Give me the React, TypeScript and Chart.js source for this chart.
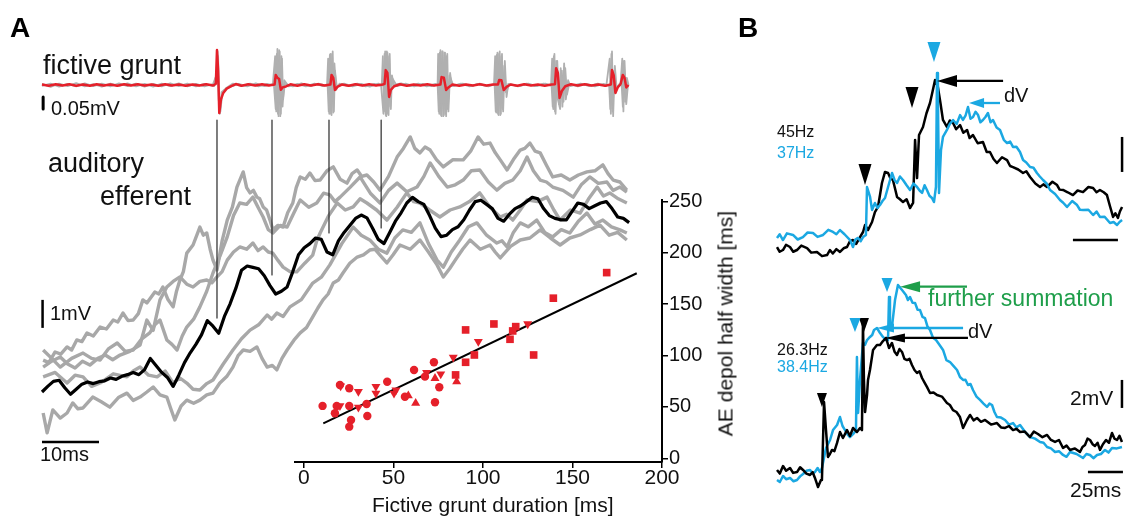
import React, { useEffect, useRef } from 'react';
import { Chart, registerables } from 'chart.js';
Chart.register(...registerables);

const FONT = '"Liberation Sans", Arial, Helvetica, sans-serif';
const RED = '#e5202a';
const GRAY = '#a8a8a8';
const BLUE = '#1ba8e2';
const GREEN = '#1e9e4a';
const INK = '#111111';

type P = [number, number];

// ================= Panel A : fictive grunt (time ms, µV) =================
const gruntRed: P[] = [[0,2],[1.2,-3],[2.4,3],[3.6,-2],[4.8,3],[6,-3],[7.2,2],[8.4,-3],[9.6,3],[10.8,-2],[12,2],[13.2,-3],[14.4,3],[15.6,-2],[16.8,3],[18,-2],[19.2,2],[20.4,-3],[21.6,3],[22.8,-2],[24,2],[25.2,-3],[26.4,2],[27.6,-2],[28.8,3],[30,-2],[30.5,5],
[30.7,146],[30.9,60],[31.1,-117],[31.4,-60],[31.8,-33],[32.4,-15],[33.2,-5],[34,4],[35,-3],[36.2,3],[37.4,-2],[38.6,3],[39.8,-2],[40.8,2],
[41.0,42],[41.3,30],[41.6,25],[41.9,-20],[42.2,-10],[42.8,-6],[43.6,3],[44.8,-3],[46,3],[47.2,-2],[48.4,3],[49.6,-2],[50.6,2],
[50.8,42],[51.1,30],[51.4,-21],[51.8,-8],[52.6,2],[53.8,-3],[55,3],[56.2,-2],[57.4,3],[58.6,-2],[59.8,2],[60.1,5],
[60.3,62],[60.6,50],[60.9,-50],[61.2,-20],[61.8,-5],[62.8,3],[64,-3],[65.2,2],[66.4,-2],[67.6,3],[68.8,-2],[69.9,2],
[70.1,33],[70.5,30],[70.9,-21],[71.3,-10],[72,2],[73.2,-3],[74.4,2],[75.6,-2],[76.8,3],[78,-2],[79.2,2],[80.0,2],
[80.2,21],[80.6,20],[81,-21],[81.5,-8],[82.2,2],[83.4,-3],[84.6,3],[85.8,-2],[87,2],[88.2,-3],[89.4,2],[90.0,3],
[90.2,70],[90.5,50],[90.8,-54],[91.2,-25],[91.8,-5],[92.8,3],[94,-2],[95.2,3],[96.4,-2],[97.6,2],[98.8,-3],[99.8,2],
[100.0,62],[100.3,40],[100.6,-33],[101,-10],[101.5,3],
[101.9,42],[102.2,30],[102.5,-10],[102.9,0]];

const gruntGray1: P[] = [[0,5],[1.5,-8],[3,6],[4.5,-5],[6,8],[7.5,-6],[9,4],[10.5,-7],[12,6],[13.5,-4],[15,7],[16.5,-6],[18,5],[19.5,-7],[21,6],[22.5,-5],[24,7],[25.5,-6],[27,5],[28.5,-6],[30,4],
[30.6,40],[30.8,140],[31.0,-60],[31.2,-120],[31.5,-30],[32,-20],[33,-8],[34.5,5],[36,-6],[37.5,7],[39,-5],[40.5,4],
[40.9,120],[41.1,-110],[41.3,150],[41.5,-130],[41.7,140],[41.9,-120],[42.1,110],[42.3,-60],[42.6,5],[44,-6],[45.5,7],[47,-5],[48.5,6],[50,-4],
[50.2,110],[50.4,-120],[50.6,130],[50.8,-125],[51.0,140],[51.2,-110],[51.4,60],[51.7,-5],[53,6],[54.5,-6],[56,5],[57.5,-7],[59,6],[59.6,-3],
[59.8,120],[60.0,-110],[60.2,140],[60.4,-130],[60.6,135],[60.8,-125],[61.0,130],[61.2,-100],[61.4,40],[61.7,0],[63,7],[64.5,-5],[66,6],[67.5,-6],[69,5],[69.4,-2],
[69.5,130],[69.7,-120],[69.9,145],[70.1,-130],[70.3,140],[70.5,-125],[70.7,135],[70.9,-130],[71.1,130],[71.3,-110],[71.6,50],[71.9,-5],[73.5,6],[75,-6],[76.5,5],[78,-5],[79.3,4],
[79.5,120],[79.7,-115],[79.9,135],[80.1,-125],[80.3,140],[80.5,-120],[80.7,130],[80.9,-110],[81.2,100],[81.5,-50],[81.8,5],[83.5,-6],[85,6],[86.5,-5],[88,6],[89.3,-3],
[89.5,110],[89.7,-100],[89.9,130],[90.1,-120],[90.4,100],[90.7,-80],[91.0,70],[91.3,-90],[91.6,90],[91.9,-60],[92.3,20],[92.7,-5],[94.5,6],[96,-5],[97.5,6],[99,-4],
[99.6,110],[99.8,-120],[100.0,140],[100.2,-130],[100.5,80],[100.8,-10],[101.5,5],
[101.8,110],[102.0,-110],[102.2,100],[102.5,-80],[102.8,0]];

const gruntGray2: P[] = [[0,-4],[1.5,6],[3,-7],[4.5,5],[6,-6],[7.5,7],[9,-5],[10.5,6],[12,-6],[13.5,7],[15,-5],[16.5,6],[18,-7],[19.5,5],[21,-6],[22.5,7],[24,-5],[25.5,6],[27,-6],[28.5,5],[30.2,-5],
[30.7,60],[30.9,120],[31.1,-90],[31.3,-110],[31.6,-40],[32.2,-15],[33.5,6],[35,-5],[36.5,6],[38,-6],[39.5,5],[40.7,-3],
[41.0,-100],[41.2,130],[41.4,-120],[41.6,145],[41.8,-130],[42.0,120],[42.2,-90],[42.5,20],[43.3,-6],[44.8,5],[46.3,-6],[47.8,6],[49.3,-5],[50.1,2],
[50.3,-110],[50.5,125],[50.7,-120],[50.9,130],[51.1,-115],[51.3,90],[51.6,-20],[52.2,6],[53.8,-5],[55.3,6],[56.8,-6],[58.3,5],[59.5,-4],
[59.9,-120],[60.1,130],[60.3,-125],[60.5,140],[60.7,-120],[60.9,120],[61.1,-90],[61.4,30],[62.3,-5],[63.8,6],[65.3,-6],[66.8,5],[68.3,-5],[69.4,3],
[69.6,-110],[69.8,135],[70.0,-125],[70.2,140],[70.4,-130],[70.6,135],[70.8,-120],[71.0,120],[71.2,-100],[71.5,40],[72.2,-5],[73.8,6],[75.3,-5],[76.8,6],[78.3,-6],[79.4,3],
[79.6,-110],[79.8,125],[80.0,-120],[80.2,130],[80.4,-125],[80.6,120],[80.8,-100],[81.1,80],[81.4,-30],[82,4],[83.8,-5],[85.3,6],[86.8,-5],[88.3,6],[89.4,-3],
[89.6,-90],[89.8,120],[90.0,-110],[90.2,100],[90.5,-60],[90.9,-100],[91.2,60],[91.5,-70],[91.8,70],[92.1,-40],[92.5,5],[94,-6],[95.5,5],[97,-6],[98.5,5],[99.5,-3],
[99.7,-100],[99.9,130],[100.1,-110],[100.4,60],[100.7,-20],[101.3,4],[101.7,-3],
[101.9,-90],[102.1,100],[102.3,-70],[102.6,30],[102.9,0]];

// ================= Panel A : auditory efferent (time ms, mV) =================
const aeMeanStepMs = 1;
const aeMean = [0.00,0.20,0.38,0.42,0.15,-0.08,0.10,0.28,0.36,0.30,
 0.37,0.40,0.50,0.45,0.56,0.62,0.70,0.62,0.80,1.20,
 0.95,0.70,0.52,0.20,0.60,1.05,1.40,1.70,2.05,2.55,
 2.35,2.10,2.70,3.15,3.70,4.35,4.50,4.45,4.40,4.15,
 3.80,3.50,3.60,3.75,4.30,4.90,5.15,5.30,5.50,5.45,
 5.00,4.90,5.40,5.70,5.95,6.20,6.32,6.22,5.85,5.45,
 5.30,5.70,6.10,6.40,6.75,6.95,6.80,6.70,6.30,5.85,
 5.55,5.60,5.80,5.90,6.15,6.50,6.80,6.85,6.70,6.55,
 6.20,6.10,6.35,6.55,6.65,6.80,6.95,6.90,6.55,6.30,
 6.20,6.15,6.15,6.45,6.75,6.70,6.55,6.65,6.75,6.80,
 6.55,6.25,6.20,6.05];

const aeGray1: P[] = [[0.2,1.14],[1.2,1.05],[2.3,1.43],[3.3,1.35],[4.4,1.61],[5.2,1.5],[6.1,1.86],[7.0,1.8],[7.9,2.11],[9.0,2.0],[10.2,2.32],[11.3,2.25],[12.5,2.57],[13.3,2.5],[14.2,2.82],[15.1,2.55],[16.0,2.57],[16.9,2.8],[17.7,3.29],[18.4,3.18],[19.8,3.57],[20.5,3.5],[21.2,3.75],[22.1,3.3],[23.0,3.04],[23.6,3.6],[24.2,4.0],[24.8,4.3],[25.4,4.96],[26.5,5.25],[27.7,5.89],[28.3,5.6],[28.9,5.68],[29.5,5.1],[30.0,4.71],[30.7,4.36],[31.6,5.4],[32.5,6.14],[33.4,6.6],[34.2,7.32],[35.3,7.86],[35.9,7.3],[36.5,7.11],[37.1,7.2],[37.7,6.96],[38.2,6.9],[38.8,6.61],[39.4,6.5],[40.0,6.14],[40.5,5.79],[41.4,5.95],[42.3,5.89],[43.1,6.4],[44.0,6.75],[44.6,7.3],[45.3,7.68],[46.2,7.6],[47.0,7.82],[47.9,7.55],[48.8,7.57],[50.0,7.9],[51.1,8.04],[52.3,7.6],[53.5,7.46],[54.4,7.8],[55.3,7.93],[56.1,7.7],[57.0,7.75],[58.2,7.5],[59.3,7.21],[60.8,7.7],[62.3,8.39],[63.4,8.7],[64.6,9.11],[65.4,8.7],[66.3,8.54],[67.2,8.75],[68.1,8.64],[69.2,8.3],[70.4,8.04],[72.1,8.3],[73.9,8.29],[75.2,8.6],[76.5,9.11],[77.5,8.85],[78.6,8.89],[79.5,8.55],[80.4,8.29],[81.6,7.93],[82.7,8.3],[83.9,8.64],[84.7,8.7],[85.6,8.89],[86.5,8.6],[87.4,8.54],[88.5,8.1],[89.6,7.68],[91.1,7.75],[92.6,7.57],[94.1,7.75],[95.6,7.86],[97.0,7.9],[98.4,8.11],[99.3,7.8],[100.2,7.57],[101.4,7.5],[102.6,7.21]];

const aeGray2: P[] = [[0.2,1.5],[1.7,1.2],[3.2,0.89],[5.2,1.2],[7.2,1.39],[8.7,1.2],[10.2,1.14],[11.7,1.55],[13.2,1.75],[14.6,1.45],[16.0,1.5],[17.5,1.9],[18.9,2.11],[19.8,2.4],[20.7,2.57],[21.9,1.86],[22.8,1.7],[23.7,1.5],[24.6,2.0],[25.4,2.32],[26.6,2.6],[27.7,3.04],[28.9,3.6],[30.0,4.25],[31.3,4.9],[32.5,5.54],[33.6,6.3],[34.7,6.75],[35.9,6.7],[37.0,6.96],[37.9,6.6],[38.8,6.25],[39.7,5.8],[40.5,5.68],[41.8,5.95],[43.0,5.89],[44.2,6.4],[45.3,6.86],[46.8,6.6],[48.2,6.75],[49.4,7.1],[50.5,7.04],[51.4,6.8],[52.3,6.96],[54.0,7.3],[55.8,7.68],[57.6,7.1],[59.3,6.75],[60.8,7.2],[62.3,7.46],[64.0,7.15],[65.8,7.32],[67.0,7.7],[68.1,8.18],[69.6,7.7],[71.1,7.32],[72.5,7.4],[73.9,7.57],[75.3,7.9],[76.8,7.93],[78.3,7.5],[79.8,7.21],[81.2,7.45],[82.6,7.57],[83.9,7.9],[85.1,8.39],[86.2,7.9],[87.4,7.57],[88.5,7.5],[89.6,7.32],[91.4,7.2],[93.2,6.96],[94.6,7.4],[96.1,7.68],[97.6,7.45],[99.1,7.5],[100.2,7.2],[101.4,7.32],[102.6,7.14]];

const aeGray3: P[] = [[0.2,0.89],[1.7,1.1],[3.2,1.25],[4.5,1.0],[5.8,0.86],[7.1,1.1],[8.4,0.96],[9.8,1.2],[11.1,1.32],[12.4,1.15],[13.7,1.32],[15.4,1.45],[17.2,1.68],[18.4,2.57],[19.5,2.2],[20.7,3.29],[21.9,3.75],[23.0,3.95],[24.2,4.11],[25.4,3.85],[26.5,3.75],[27.7,3.95],[28.9,4.0],[29.8,3.9],[30.7,4.11],[31.6,4.3],[32.5,4.71],[33.6,5.0],[34.7,5.18],[35.9,5.1],[37.0,5.32],[37.9,5.05],[38.8,5.18],[39.7,5.0],[40.5,4.96],[41.4,4.7],[42.3,4.46],[43.5,4.3],[44.7,4.29],[46.1,4.6],[47.5,4.89],[48.2,5.4],[48.8,5.68],[50.3,6.3],[51.8,6.75],[53.2,6.5],[54.6,6.61],[55.8,6.9],[57.0,6.75],[58.7,6.5],[60.5,6.14],[62.3,6.6],[64.0,7.11],[65.2,6.8],[66.3,6.75],[68.0,6.5],[69.8,6.25],[71.6,6.5],[73.3,6.61],[75.0,6.8],[76.8,7.11],[78.6,6.6],[80.4,6.25],[81.5,6.35],[82.6,6.14],[83.9,6.5],[85.1,6.86],[86.9,6.8],[88.6,6.96],[89.8,6.5],[90.9,6.14],[92.7,6.5],[94.4,6.39],[95.9,6.9],[97.4,7.32],[98.5,7.0],[99.6,7.11],[101.1,6.9],[102.6,6.75]];

const aeGray4: P[] = [[0.2,0.54],[2.3,0.7],[4.4,0.32],[5.8,0.6],[7.2,0.54],[8.7,0.2],[10.2,0.32],[12.5,0.65],[14.9,0.54],[16.0,0.75],[17.2,0.89],[18.7,0.6],[20.2,0.54],[21.6,0.75],[23.0,0.32],[24.2,0.5],[25.4,0.32],[26.5,0.1],[27.7,0.07],[28.9,0.3],[30.0,0.43],[31.8,1.0],[33.5,1.5],[35.0,1.9],[36.5,2.21],[38.0,2.4],[39.5,2.75],[40.3,2.6],[41.2,2.82],[42.3,2.7],[43.5,3.04],[45.5,3.3],[47.5,3.89],[49.0,4.1],[50.5,4.54],[52.6,5.3],[54.6,5.89],[56.0,5.6],[57.5,5.43],[59.0,5.1],[60.5,4.96],[61.9,5.5],[63.3,5.79],[64.8,5.7],[66.3,6.04],[67.8,5.3],[69.3,4.71],[70.4,4.46],[71.8,5.0],[73.3,5.43],[74.8,5.9],[76.3,6.04],[78.0,5.6],[79.8,5.32],[80.7,5.4],[81.6,5.18],[82.7,5.7],[83.9,6.04],[85.3,5.9],[86.8,6.14],[88.2,5.7],[89.6,5.54],[91.1,5.8],[92.6,5.68],[94.1,6.1],[95.6,6.39],[97.0,6.0],[98.4,6.14],[99.9,5.9],[101.4,5.79],[102.6,5.68]];

const aeGray5: P[] = [[0.2,-0.75],[0.9,-1.46],[1.9,-0.64],[3.2,-0.93],[4.4,-0.75],[5.4,-0.39],[6.3,-0.6],[7.2,-0.57],[8.9,-0.18],[10.4,-0.35],[11.9,-0.54],[13.4,-0.2],[14.9,-0.04],[16.0,-0.3],[17.2,-0.18],[18.4,0.0],[19.5,0.18],[20.7,-0.1],[21.9,-0.18],[22.6,-0.6],[23.3,-1.0],[24.4,-0.5],[25.4,-0.29],[26.6,-0.4],[27.7,-0.29],[28.9,-0.1],[30.0,-0.04],[31.2,0.32],[32.4,0.55],[33.5,0.89],[34.4,1.3],[35.3,1.5],[36.5,1.45],[37.7,1.61],[38.6,1.2],[39.5,0.89],[40.4,0.95],[41.2,0.79],[42.1,1.2],[43.0,1.5],[44.2,1.85],[45.3,2.11],[46.4,2.3],[47.5,2.68],[48.4,3.0],[49.3,3.29],[50.2,3.5],[51.1,3.89],[52.0,4.0],[52.8,4.25],[54.0,4.6],[55.3,4.82],[56.4,4.9],[57.5,5.07],[58.4,5.1],[59.3,4.89],[60.5,4.61],[61.6,4.9],[62.8,5.25],[64.6,5.1],[66.3,5.43],[67.8,5.0],[69.3,4.54],[70.4,4.11],[71.5,4.4],[72.5,4.71],[73.8,5.1],[75.1,5.43],[76.9,5.1],[78.6,5.25],[79.5,5.0],[80.4,4.79],[82.2,5.2],[83.9,5.43],[85.6,5.5],[87.4,5.79],[89.2,5.5],[90.9,5.25],[92.6,5.5],[94.4,5.61],[96.2,5.8],[97.9,5.96],[99.5,5.6],[101.0,5.7],[102.6,5.43]];

// grunt-onset markers: [time ms, lower end mV]
const onsetTimes = [30.7, 40.35, 50.35, 59.5];
const onsetLowMv = [2.64, 4.18, 5.68, 5.86];
const onsetTopMv = 9.71;

// ================= Panel A inset : half width vs grunt duration =================
const circDur = [10.4,18.3,17.3,20.1,25.3,25.3,26.3,25.3,35,35.4,46.5,56.4,61.5,67.6,72.6,75.6,73.2];
const circHalf = [51,51,43.8,71.4,68.2,51,37.3,30.8,52.9,41.2,74.6,60,86,79.5,93.5,69.2,54.6];
const sqDur = [169.1,139.3,106.1,90.3,118.3,116.6,115.1,128.3,95.2,90.3,84.7];
const sqHalf = [180.8,155.9,130.8,125,128.2,124,115.9,100.6,100.6,93.5,81.2];
const triDownDur = [125,97.4,83.4,76.4,68.5,51.4,50.3,40.2,40.2,30.4,20.5,20.1,30.4];
const triDownHalf = [130.8,113.6,98.4,82.1,83.4,66.5,63.3,69.8,63.3,64.9,70.4,51,49.7];
const triUpDur = [73.2,85.3,62.4,58.3];
const triUpHalf = [77.9,74.6,53.6,61];
const fitDur = [10.8, 185.9];
const fitHalf = [34.1, 180.2];
const durTicks = [0, 50, 100, 150, 200];
const halfTicks = [0, 50, 100, 150, 200, 250];

// ================= Panel B top (45 Hz black / 37 Hz blue), time ms, mV =================
const bTopBlack: P[] = [[0,0.17],[1.5,-0.1],[3.3,0],[5,0.3],[7.2,0.17],[9,-0.1],[11.1,0],[13.5,0.25],[16.7,0.11],[19,-0.15],[22.2,-0.11],[25,-0.35],[27.8,-0.29],[29.4,0],[31,-0.2],[33,0.05],[35,-0.11],[37,0.1],[38.9,0.17],[40.5,0.5],[42.2,0.57],[44,0.35],[46.1,0.74],[47.8,1.03],[48.9,1.43],[50.6,1.14],[52.8,1.6],[54.4,2.17],[56.1,2.46],[57.3,3.2],[58.3,3.83],[60,4.46],[61.7,4.4],[63,4.1],[64.4,4.0],[65.6,3.5],[66.7,3.03],[68.3,2.9],[70,2.74],[72,2.9],[73.9,2.4],[75.6,2.69],[76.7,6.29],[77.8,4.11],[78.9,6.57],[81.1,7.03],[83,7.8],[85,8.4],[86.5,9.1],[87.8,9.71],[89.4,9.31],[90.8,8.4],[92.2,7.43],[94.4,7.03],[96,7.4],[97.8,7.26],[99.5,6.9],[101.7,7.14],[103.5,6.7],[105.6,6.86],[107,6.4],[108.9,6.57],[111.5,6.1],[114.4,6.17],[116.5,5.6],[118.3,5.6],[120.3,5.2],[122.2,4.97],[125,5.3],[127.8,5.14],[129.5,4.8],[131.1,4.74],[134,4.6],[136.7,4.4],[138.5,4.5],[140.6,4.17],[143.5,3.8],[146.1,3.6],[148,3.75],[150,3.6],[153,3.9],[155.6,3.71],[157,3.45],[158.9,3.43],[161.5,3.3],[164.4,3.14],[167,3.4],[170,3.31],[173,3.6],[175.6,3.54],[177.5,3.3],[179.4,3.43],[181.5,3.3],[183.3,3.14],[185,2.5],[186.7,1.89],[188,2.1],[189.4,1.83],[190.5,2.2],[191.7,2.46]];

const bTopBlue: P[] = [[0,0.69],[1.5,0.9],[3.3,0.57],[5.5,0.95],[8.9,0.86],[11.5,0.6],[14.4,0.74],[17,1.0],[20,0.97],[22.5,0.75],[25.6,0.86],[28.5,1.15],[31.1,1.03],[33,0.9],[35,1.14],[37.5,0.9],[40.6,0.57],[42.2,0.17],[43.5,0.6],[45,0.69],[46.5,0.5],[47.8,0.74],[49.4,0.86],[50,3.6],[51.7,3.03],[52.8,2.29],[54.4,2.69],[55.8,2.4],[57.2,2.57],[58.6,2.8],[60,2.97],[61.7,3.6],[63.9,4.4],[65.3,4.0],[66.7,3.83],[68.3,4.2],[70,4.0],[72,3.7],[73.9,3.43],[75.8,3.8],[77.8,3.6],[79.2,3.4],[80.6,3.26],[82,3.7],[83.3,3.43],[84.7,3.1],[86.1,2.97],[87.2,2.74],[88.3,3.6],[88.9,10.11],[89.4,8.57],[90,3.26],[91.1,5.71],[92.2,6.46],[94.4,6.86],[96,7.2],[97.8,7.43],[99.8,7.2],[101.7,7.71],[103.3,7.43],[104.8,7.7],[106.1,8.17],[107.5,7.5],[108.9,7.6],[110.3,7.9],[111.7,7.71],[113,7.3],[114.4,7.43],[115.8,7.6],[117.2,7.83],[118.6,7.3],[120,7.43],[122,7.0],[123.9,6.86],[126,6.3],[127.8,6.11],[129.5,6.2],[131.1,5.89],[133,5.9],[135,5.6],[136.7,5.14],[138.5,5.0],[140.6,4.74],[142.5,4.7],[144.4,4.4],[146,4.2],[147.8,4.0],[149.8,3.8],[151.7,3.43],[154.5,3.2],[157.2,2.86],[159,2.7],[161.1,2.46],[164,2.8],[166.7,2.57],[168.3,2.3],[170,2.29],[173,2.3],[175.6,2.0],[177.5,2.2],[179.4,1.89],[182,1.9],[185,1.54],[187,1.6],[188.9,1.43],[190.3,1.6],[191.7,1.71]];

// ================= Panel B bottom (26.3 Hz black / 38.4 Hz blue) =================
const bBotBlack: P[] = [[0,0.36],[2,0.1],[4.3,0.64],[6.5,0.3],[9.3,0.5],[11.5,0.15],[14.3,0.21],[16.5,0.55],[18.6,0.36],[21,0.1],[23.6,0],[25.5,0.2],[27.1,-0.21],[29.3,-0.86],[31.4,-0.36],[32.1,-0.36],[33.6,5.21],[35,3.21],[36.4,1.29],[37.8,1.5],[39.3,1.79],[41,1.7],[42.9,2.29],[45,3.07],[47.1,2.64],[50,3.21],[52.1,2.79],[54.3,3.36],[57.1,3.07],[59.3,3.36],[60.7,3.21],[61.4,10.93],[62.1,6.79],[62.9,4.5],[64.3,5.71],[65,6.79],[66.4,7.5],[68.6,8.93],[71.4,9.29],[73.6,9.29],[75.7,9.57],[77.9,9.79],[80,9.07],[82.1,9.43],[84,8.8],[85.7,8.57],[87.5,9.0],[89.3,8.79],[91,8.3],[92.9,8.21],[94.6,8.3],[96.4,7.86],[98.2,7.5],[100,7.29],[101.8,7.4],[103.6,6.93],[105.4,6.6],[107.1,6.29],[109.3,5.86],[111.8,5.9],[114.3,5.71],[117.8,5.6],[121.4,5.14],[123.5,5.0],[125.7,4.64],[128.2,4.5],[130.7,4.14],[132.9,3.36],[135.7,3.93],[137.9,4.29],[140.4,3.9],[142.9,4.07],[145.7,3.8],[148.6,3.93],[152.9,3.6],[157.1,3.71],[160,3.4],[162.9,3.36],[165.7,3.5],[168.6,3.21],[171,3.3],[173.6,3.07],[177,3.1],[180.7,2.71],[183.5,3.1],[186.4,2.93],[189.6,2.7],[192.9,2.86],[195.7,2.5],[198.6,2.36],[201.4,2.5],[204.3,1.93],[206.8,2.1],[209.3,1.79],[212.8,1.9],[216.4,1.64],[218.2,2.0],[220,2.14],[221.8,2.6],[223.6,2.5],[225.4,2.2],[227.1,2.07],[229,2.3],[230.7,1.79],[232.8,2.2],[235,2.5],[237.1,2.3],[239.3,3.0],[241,2.6],[242.9,2.5],[244.6,2.8],[246.4,2.36]];

const bBotBlue: P[] = [[0,-0.36],[2,-0.5],[4.3,-0.07],[6.5,-0.3],[9.3,-0.21],[11.8,-0.45],[14.3,-0.36],[16.5,-0.1],[18.6,0.07],[21,0.3],[23.6,0.36],[25.5,0.1],[27.1,0.21],[29,0.5],[30.7,0.21],[32.1,0.5],[35,1.93],[37.9,2.5],[40,3.21],[42.9,3.57],[45,4.14],[46.8,3.5],[48.6,3.21],[50.4,2.9],[52.1,2.71],[55,3.0],[56.4,3.21],[57.1,8.43],[57.9,4.43],[59.3,6.79],[61.4,9.43],[62.9,9.3],[64.3,9.64],[66.4,9.86],[68,10.0],[69.3,10.36],[71.4,10.5],[73.6,10.14],[75.7,9.86],[77.9,9.64],[79.3,9.64],[80,12.71],[80.7,10.36],[82.1,10.57],[84.3,12.5],[86.4,13.57],[89.3,13.21],[92.1,12.86],[93.5,12.5],[95,12.71],[96.8,12.3],[98.6,12.29],[100.4,11.8],[102.1,11.79],[103.9,11.3],[105.7,11.21],[107.5,10.6],[109.3,10.36],[111.4,9.8],[113.6,9.64],[116,9.3],[118.6,8.93],[121,8.2],[123.6,8.07],[126,7.8],[128.6,7.5],[130.7,7.0],[132.9,6.79],[134.6,6.8],[136.4,6.43],[138.2,6.5],[140,6.07],[142.5,5.6],[145,5.36],[147.5,5.1],[150,4.86],[151.8,5.1],[153.6,5.0],[155.3,4.5],[157.1,4.14],[160,4.1],[162.9,3.93],[165.7,3.6],[168.6,3.71],[171,3.4],[173.6,3.57],[177,3.1],[180.7,2.71],[184.3,2.6],[187.9,2.36],[190.4,2.3],[192.9,2.0],[195.7,1.9],[198.6,1.64],[201.4,1.7],[204.3,1.43],[206.8,1.3],[209.3,1.64],[214,1.5],[218.6,1.21],[221,1.5],[223.6,1.43],[226,1.2],[228.6,1.43],[231.4,1.5],[234.3,1.79],[236.8,1.6],[239.3,1.93],[242.8,1.9],[246.4,2.0]];

// stimulus markers (tip time ms, tip mV)
const stimTopBlack: P[] = [[48.9, 3.71], [75.0, 8.11]];
const stimTopBlue: P[] = [[87.2, 10.74]];
const stimBotBlack: P[] = [[32.1, 4.86], [62.1, 10.21]];
const stimBotBlue: P[] = [[55.7, 10.21], [78.6, 13.07]];
// dV arrows: [tip time, tail time, mV]
const arrTopBlack = [88.9, 125.6, 9.66];
const arrTopBlue = [106.7, 123.9, 8.4];
const arrBotGreen = [87.9, 135.7, 13.45];
const arrBotBlue = [71.4, 132.9, 10.5];
const arrBotBlack = [77.1, 136.4, 9.79];

// ---------- helpers ----------
const pts = (a: P[]) => a.map(([x, y]) => ({ x, y }));
const trace = (data: any[], xAxisID: string, yAxisID: string, color: string, width: number) => ({
  data, xAxisID, yAxisID, borderColor: color, backgroundColor: color, borderWidth: width,
  pointRadius: 0, showLine: true, fill: false, borderJoinStyle: 'round', borderCapStyle: 'butt',
});

const annotPlugin = {
  id: 'annot',
  afterDatasetsDraw(chart: any) {
    const ctx = chart.ctx;
    const sc = chart.scales;
    const drawStim = (list: P[], xs: string, ys: string, color: string, w: number, h: number) => {
      for (const [t, v] of list) {
        const x = sc[xs].getPixelForValue(t), y = sc[ys].getPixelForValue(v);
        ctx.save();
        ctx.fillStyle = color;
        ctx.beginPath();
        ctx.moveTo(x, y);
        ctx.lineTo(x - w / 2, y - h);
        ctx.lineTo(x + w / 2, y - h);
        ctx.closePath();
        ctx.fill();
        ctx.restore();
      }
    };
    const drawArrow = (a: number[], xs: string, ys: string, color: string, len: number, half: number) => {
      const xt = sc[xs].getPixelForValue(a[0]);
      const xe = sc[xs].getPixelForValue(a[1]);
      const y = sc[ys].getPixelForValue(a[2]);
      ctx.save();
      ctx.strokeStyle = color;
      ctx.fillStyle = color;
      ctx.lineWidth = 2.3;
      ctx.beginPath();
      ctx.moveTo(xt + len - 2, y);
      ctx.lineTo(xe, y);
      ctx.stroke();
      ctx.beginPath();
      ctx.moveTo(xt, y);
      ctx.lineTo(xt + len, y - half);
      ctx.lineTo(xt + len, y + half);
      ctx.closePath();
      ctx.fill();
      ctx.restore();
    };
    drawStim(stimTopBlack, 'xBT', 'yBT', '#000', 13, 21);
    drawStim(stimTopBlue, 'xBT', 'yBT', BLUE, 13, 20);
    drawStim(stimBotBlack, 'xBB', 'yBB', '#000', 10, 14);
    drawStim(stimBotBlue, 'xBB', 'yBB', BLUE, 11, 14);
    drawArrow(arrTopBlack, 'xBT', 'yBT', '#000', 20, 6);
    drawArrow(arrTopBlue, 'xBT', 'yBT', BLUE, 15, 5);
    drawArrow(arrBotGreen, 'xBB', 'yBB', GREEN, 20, 5.5);
    drawArrow(arrBotBlue, 'xBB', 'yBB', BLUE, 17, 4.5);
    drawArrow(arrBotBlack, 'xBB', 'yBB', '#000', 20, 4.5);
  },
};

const hid = (axis: 'x' | 'y', min: number, max: number) => ({ type: 'linear', axis, display: false, min, max });

const txt = (x: number, y: number, size: number, color = INK, bold = false): React.CSSProperties => ({
  position: 'absolute', left: x, top: y, fontSize: size, lineHeight: `${size}px`, color,
  fontWeight: bold ? 700 : 400, fontFamily: FONT, whiteSpace: 'nowrap', margin: 0,
});

export default function App() {
  const traceRef = useRef<HTMLCanvasElement>(null);
  const scatRef = useRef<HTMLCanvasElement>(null);

  useEffect(() => {
    const aeMeanPts = aeMean.map((v, i) => ({ x: i * aeMeanStepMs, y: v }));
    const onsetSets = onsetTimes.map((t, i) =>
      trace([{ x: t, y: onsetTopMv }, { x: t, y: onsetLowMv[i] }], 'xA', 'yAE', '#2a2a2a', 1.2));
    const bars = [
      trace([{ x: 0, y: -1.79 }, { x: 10, y: -1.79 }], 'xA', 'yAE', '#000', 2.5),
      trace([{ x: 0.1, y: 2.29 }, { x: 0.1, y: 3.29 }], 'xA', 'yAE', '#000', 2.5),
      trace([{ x: 0.2, y: -50 }, { x: 0.2, y: -100 }], 'xA', 'yG', '#000', 3),
      trace([{ x: 191.7, y: 4.46 }, { x: 191.7, y: 6.46 }], 'xBT', 'yBT', '#000', 2.5),
      trace([{ x: 164.4, y: 0.57 }, { x: 189.4, y: 0.57 }], 'xBT', 'yBT', '#000', 2.5),
      trace([{ x: 246.4, y: 4.79 }, { x: 246.4, y: 6.79 }], 'xBB', 'yBB', '#000', 2.5),
      trace([{ x: 222.1, y: 0.21 }, { x: 247.1, y: 0.21 }], 'xBB', 'yBB', '#000', 2.5),
    ];
    const tc = new Chart(traceRef.current!, {
      type: 'scatter',
      data: {
        datasets: [
          ...bars,
          trace(pts(bTopBlue), 'xBT', 'yBT', BLUE, 2.5),
          trace(pts(bTopBlack), 'xBT', 'yBT', '#000', 2.5),
          trace(pts(bBotBlack), 'xBB', 'yBB', '#000', 2.5),
          trace(pts(bBotBlue), 'xBB', 'yBB', BLUE, 2.5),
          trace(aeMeanPts, 'xA', 'yAE', '#000', 3.2),
          ...onsetSets,
          trace(pts(gruntRed), 'xA', 'yG', RED, 2.5),
          trace(pts(gruntGray1), 'xA', 'yG', '#b0b0b0', 1.8),
          trace(pts(gruntGray2), 'xA', 'yG', '#b0b0b0', 1.8),
          trace(pts(aeGray1), 'xA', 'yAE', GRAY, 3.4),
          trace(pts(aeGray2), 'xA', 'yAE', GRAY, 3.4),
          trace(pts(aeGray3), 'xA', 'yAE', GRAY, 3.4),
          trace(pts(aeGray4), 'xA', 'yAE', GRAY, 3.4),
          trace(pts(aeGray5), 'xA', 'yAE', GRAY, 3.4),
        ] as any,
      },
      options: {
        responsive: false,
        animation: false,
        events: [],
        layout: { padding: 0 },
        plugins: { legend: { display: false }, tooltip: { enabled: false } },
        scales: {
          xA: hid('x', -7.3684, 190.0),
          yAE: hid('y', -4.5357, 14.0),
          yG: hid('y', -1808.33, 354.17),
          xBT: hid('x', -431.67, 193.33),
          yBT: hid('y', -15.371, 14.286),
          xBB: hid('x', -555.0, 248.57),
          yBB: hid('y', -3.143, 33.929),
        } as any,
      },
      plugins: [annotPlugin],
    });

    const mk = (xs: number[], ys: number[], style: string, radius: number, rotation = 0) => ({
      data: xs.map((x, i) => ({ x, y: ys[i] })),
      pointStyle: style, pointRadius: radius, rotation,
      backgroundColor: RED, borderColor: RED, borderWidth: 0, showLine: false,
    });
    const sc = new Chart(scatRef.current!, {
      type: 'scatter',
      data: {
        datasets: [
          mk(circDur, circHalf, 'circle', 4.2),
          mk(sqDur, sqHalf, 'rect', 5.4),
          mk(triDownDur, triDownHalf, 'triangle', 5.2, 180),
          mk(triUpDur, triUpHalf, 'triangle', 5.2),
          {
            data: fitDur.map((x, i) => ({ x, y: fitHalf[i] })),
            showLine: true, pointRadius: 0, borderColor: '#000', borderWidth: 2,
          },
        ] as any,
      },
      options: {
        responsive: false,
        animation: false,
        events: [],
        layout: { padding: { left: 15, top: 15, right: 0, bottom: 0 } },
        plugins: { legend: { display: false }, tooltip: { enabled: false } },
        scales: {
          x: {
            type: 'linear', position: 'bottom', min: -5, max: 200,
            afterBuildTicks: (s: any) => { s.ticks = durTicks.map((v) => ({ value: v })); },
            afterFit: (s: any) => { s.height = 57; },
            grid: { display: true, drawOnChartArea: false, drawTicks: true, tickLength: 6, color: '#000', lineWidth: 1.5 },
            border: { display: true, color: '#000', width: 2 },
            ticks: { font: { size: 21, family: FONT }, color: INK, padding: -2, maxRotation: 0, autoSkip: false },
            title: { display: false },
          },
          y: {
            type: 'linear', position: 'right', min: -3.6, max: 251.5,
            afterBuildTicks: (s: any) => { s.ticks = halfTicks.map((v) => ({ value: v })); },
            afterFit: (s: any) => { s.width = 78; },
            grid: { display: true, drawOnChartArea: false, drawTicks: true, tickLength: 6, color: '#000', lineWidth: 1.5 },
            border: { display: true, color: '#000', width: 2 },
            ticks: { font: { size: 20, family: FONT }, color: INK, padding: 1, autoSkip: false },
            title: { display: false },
          },
        } as any,
      },
    });
    return () => { tc.destroy(); sc.destroy(); };
  }, []);

  return (
    <div style={{ position: 'absolute', left: 0, top: 0, width: 1125, height: 519, background: '#fff', overflow: 'hidden', fontFamily: FONT }}>
      <canvas ref={traceRef} width={1125} height={519} style={{ position: 'absolute', left: 0, top: 0, width: 1125, height: 519 }} />
      <canvas ref={scatRef} width={460} height={334} style={{ position: 'absolute', left: 280, top: 185, width: 460, height: 334 }} />
      <div style={txt(10, 14, 28, '#000', true)}>A</div>
      <div style={txt(738, 14, 28, '#000', true)}>B</div>
      <div style={txt(43, 52, 27)}>fictive grunt</div>
      <div style={txt(51, 98, 20)}>0.05mV</div>
      <div style={txt(48, 150, 27)}>auditory</div>
      <div style={txt(100, 183, 27)}>efferent</div>
      <div style={txt(50, 303, 20)}>1mV</div>
      <div style={txt(40, 444, 20)}>10ms</div>
      <div style={txt(372, 494, 21)}>Fictive grunt duration [ms]</div>
      <div style={{ ...txt(574.7, 312.5, 21), width: 300, height: 21, textAlign: 'center', transform: 'rotate(-90deg)' }}>AE depol half width [ms]</div>
      <div style={txt(777, 123.5, 16)}>45Hz</div>
      <div style={txt(777, 144.5, 16, BLUE)}>37Hz</div>
      <div style={txt(1004, 85, 20)}>dV</div>
      <div style={txt(777, 341.5, 16)}>26.3Hz</div>
      <div style={txt(777, 358.5, 16, BLUE)}>38.4Hz</div>
      <div style={txt(928, 287, 23, GREEN)}>further summation</div>
      <div style={txt(968, 321, 20)}>dV</div>
      <div style={txt(1070, 387, 21)}>2mV</div>
      <div style={txt(1070, 479, 21)}>25ms</div>
    </div>
  );
}
